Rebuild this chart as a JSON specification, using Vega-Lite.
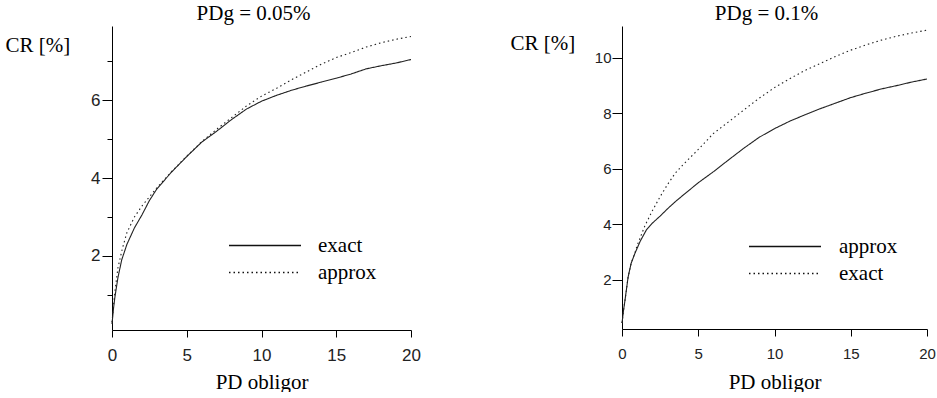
{
  "$schema": "https://vega.github.io/schema/vega-lite/v6.json",
  "background": "white",
  "padding": {"left": 5, "top": 3, "right": 0, "bottom": 0},
  "spacing": 89,
  "config": {
    "view": {"stroke": null},
    "axis": {"grid": false, "domainColor": "black", "tickColor": "black", "labelFont": "Liberation Sans", "labelColor": "#222", "labelFlush": false, "titleFont": "Liberation Serif", "titleFontWeight": "normal", "titleColor": "black", "titleFontSize": 21},
    "title": {"font": "Liberation Serif", "fontSize": 21, "fontWeight": "normal", "color": "black", "anchor": "middle", "frame": "group"},
    "legend": {"labelFont": "Liberation Serif", "labelFontSize": 21, "labelColor": "black"}
  },
  "datasets": {
    "left": [
      {"series": "exact", "pd": 0, "cr": 0.25}, {"series": "exact", "pd": 0.1, "cr": 0.65}, {"series": "exact", "pd": 0.2, "cr": 0.96}, {"series": "exact", "pd": 0.4, "cr": 1.45}, {"series": "exact", "pd": 0.65, "cr": 1.9}, {"series": "exact", "pd": 1.0, "cr": 2.3}, {"series": "exact", "pd": 1.5, "cr": 2.72}, {"series": "exact", "pd": 2.0, "cr": 3.05}, {"series": "exact", "pd": 2.5, "cr": 3.42}, {"series": "exact", "pd": 3.0, "cr": 3.72}, {"series": "exact", "pd": 4.0, "cr": 4.16}, {"series": "exact", "pd": 5.0, "cr": 4.55}, {"series": "exact", "pd": 6.0, "cr": 4.92}, {"series": "exact", "pd": 7.0, "cr": 5.2}, {"series": "exact", "pd": 8.0, "cr": 5.5}, {"series": "exact", "pd": 9.0, "cr": 5.77}, {"series": "exact", "pd": 10.0, "cr": 5.97}, {"series": "exact", "pd": 11.0, "cr": 6.12}, {"series": "exact", "pd": 12.0, "cr": 6.25}, {"series": "exact", "pd": 13.0, "cr": 6.36}, {"series": "exact", "pd": 14.0, "cr": 6.46}, {"series": "exact", "pd": 15.0, "cr": 6.56}, {"series": "exact", "pd": 16.0, "cr": 6.67}, {"series": "exact", "pd": 17.0, "cr": 6.8}, {"series": "exact", "pd": 18.0, "cr": 6.88}, {"series": "exact", "pd": 19.0, "cr": 6.95}, {"series": "exact", "pd": 20.0, "cr": 7.04},
      {"series": "approx", "pd": 0, "cr": 0.3}, {"series": "approx", "pd": 0.1, "cr": 0.72}, {"series": "approx", "pd": 0.2, "cr": 1.1}, {"series": "approx", "pd": 0.4, "cr": 1.7}, {"series": "approx", "pd": 0.7, "cr": 2.2}, {"series": "approx", "pd": 1.0, "cr": 2.6}, {"series": "approx", "pd": 1.5, "cr": 3.0}, {"series": "approx", "pd": 2.0, "cr": 3.28}, {"series": "approx", "pd": 3.0, "cr": 3.75}, {"series": "approx", "pd": 4.0, "cr": 4.17}, {"series": "approx", "pd": 5.0, "cr": 4.56}, {"series": "approx", "pd": 6.0, "cr": 4.93}, {"series": "approx", "pd": 7.0, "cr": 5.25}, {"series": "approx", "pd": 8.0, "cr": 5.55}, {"series": "approx", "pd": 9.0, "cr": 5.85}, {"series": "approx", "pd": 10.0, "cr": 6.1}, {"series": "approx", "pd": 11.0, "cr": 6.3}, {"series": "approx", "pd": 12.0, "cr": 6.52}, {"series": "approx", "pd": 13.0, "cr": 6.72}, {"series": "approx", "pd": 14.0, "cr": 6.92}, {"series": "approx", "pd": 15.0, "cr": 7.09}, {"series": "approx", "pd": 16.0, "cr": 7.22}, {"series": "approx", "pd": 17.0, "cr": 7.36}, {"series": "approx", "pd": 18.0, "cr": 7.47}, {"series": "approx", "pd": 19.0, "cr": 7.56}, {"series": "approx", "pd": 20.0, "cr": 7.63}
    ],
    "right": [
      {"series": "approx", "pd": 0, "cr": 0.44}, {"series": "approx", "pd": 0.1, "cr": 0.9}, {"series": "approx", "pd": 0.2, "cr": 1.28}, {"series": "approx", "pd": 0.4, "cr": 2.1}, {"series": "approx", "pd": 0.6, "cr": 2.6}, {"series": "approx", "pd": 0.85, "cr": 2.96}, {"series": "approx", "pd": 1.2, "cr": 3.4}, {"series": "approx", "pd": 1.6, "cr": 3.8}, {"series": "approx", "pd": 2.0, "cr": 4.05}, {"series": "approx", "pd": 2.5, "cr": 4.3}, {"series": "approx", "pd": 3.0, "cr": 4.57}, {"series": "approx", "pd": 3.5, "cr": 4.82}, {"series": "approx", "pd": 4.0, "cr": 5.05}, {"series": "approx", "pd": 5.0, "cr": 5.5}, {"series": "approx", "pd": 6.0, "cr": 5.9}, {"series": "approx", "pd": 7.0, "cr": 6.33}, {"series": "approx", "pd": 8.0, "cr": 6.75}, {"series": "approx", "pd": 9.0, "cr": 7.14}, {"series": "approx", "pd": 10.0, "cr": 7.45}, {"series": "approx", "pd": 11.0, "cr": 7.72}, {"series": "approx", "pd": 12.0, "cr": 7.95}, {"series": "approx", "pd": 13.0, "cr": 8.17}, {"series": "approx", "pd": 14.0, "cr": 8.37}, {"series": "approx", "pd": 15.0, "cr": 8.57}, {"series": "approx", "pd": 16.0, "cr": 8.73}, {"series": "approx", "pd": 17.0, "cr": 8.88}, {"series": "approx", "pd": 18.0, "cr": 9.0}, {"series": "approx", "pd": 19.0, "cr": 9.13}, {"series": "approx", "pd": 20.0, "cr": 9.24},
      {"series": "exact", "pd": 0, "cr": 0.44}, {"series": "exact", "pd": 0.1, "cr": 0.9}, {"series": "exact", "pd": 0.2, "cr": 1.28}, {"series": "exact", "pd": 0.4, "cr": 2.1}, {"series": "exact", "pd": 0.6, "cr": 2.6}, {"series": "exact", "pd": 0.85, "cr": 2.98}, {"series": "exact", "pd": 1.0, "cr": 3.25}, {"series": "exact", "pd": 1.5, "cr": 3.95}, {"series": "exact", "pd": 2.0, "cr": 4.5}, {"series": "exact", "pd": 2.5, "cr": 5.0}, {"series": "exact", "pd": 3.0, "cr": 5.45}, {"series": "exact", "pd": 3.5, "cr": 5.85}, {"series": "exact", "pd": 4.0, "cr": 6.15}, {"series": "exact", "pd": 5.0, "cr": 6.7}, {"series": "exact", "pd": 6.0, "cr": 7.28}, {"series": "exact", "pd": 7.0, "cr": 7.7}, {"series": "exact", "pd": 8.0, "cr": 8.13}, {"series": "exact", "pd": 9.0, "cr": 8.55}, {"series": "exact", "pd": 10.0, "cr": 8.93}, {"series": "exact", "pd": 11.0, "cr": 9.25}, {"series": "exact", "pd": 12.0, "cr": 9.55}, {"series": "exact", "pd": 13.0, "cr": 9.8}, {"series": "exact", "pd": 14.0, "cr": 10.05}, {"series": "exact", "pd": 15.0, "cr": 10.28}, {"series": "exact", "pd": 16.0, "cr": 10.47}, {"series": "exact", "pd": 17.0, "cr": 10.64}, {"series": "exact", "pd": 18.0, "cr": 10.78}, {"series": "exact", "pd": 19.0, "cr": 10.9}, {"series": "exact", "pd": 20.0, "cr": 11.0}
    ]
  },
  "hconcat": [
    {
      "width": 299,
      "height": 304,
      "title": {"text": "PDg = 0.05%", "offset": 2, "dx": -8},
      "data": {"name": "left"},
      "mark": {"type": "line", "strokeWidth": 1.1, "color": "#222"},
      "encoding": {
        "x": {"field": "pd", "type": "quantitative", "scale": {"domain": [0, 20], "nice": false},
          "axis": {"values": [0, 5, 10, 15, 20], "tickSize": 7, "labelPadding": 10, "labelFontSize": 17, "title": "PD obligor", "titleY": 58, "titleBaseline": "alphabetic"}},
        "y": {"field": "cr", "type": "quantitative", "scale": {"domain": [0.1, 7.9], "nice": false, "zero": false},
          "axis": {"values": [1, 2, 3, 4, 5, 6, 7], "labelExpr": "datum.value % 2 === 0 ? datum.label : ''", "tickSize": {"condition": {"test": "datum.value % 2 === 0", "value": 10}, "value": 5}, "labelPadding": 2, "labelFontSize": 17, "title": "CR [%]", "titleAngle": 0, "titleAlign": "left", "titleBaseline": "alphabetic", "titleX": -107, "titleY": 25}},
        "strokeDash": {"field": "series", "type": "nominal", "scale": {"domain": ["exact", "approx"], "range": [[1, 0], [1.5, 3]]},
          "legend": {"title": null, "orient": "none", "legendX": 116, "legendY": 206, "symbolType": "stroke", "symbolSize": 5184, "clipHeight": 27, "symbolStrokeWidth": 1.5, "symbolStrokeColor": "#111", "labelOffset": 16, "padding": 0, "rowPadding": 0}}
      }
    },
    {
      "width": 305,
      "height": 303,
      "title": {"text": "PDg = 0.1%", "offset": 2, "dx": -8},
      "data": {"name": "right"},
      "mark": {"type": "line", "strokeWidth": 1.1, "color": "#222"},
      "encoding": {
        "x": {"field": "pd", "type": "quantitative", "scale": {"domain": [0, 20], "nice": false},
          "axis": {"values": [0, 5, 10, 15, 20], "tickSize": 7, "labelPadding": 10, "labelFontSize": 15, "title": "PD obligor", "titleY": 59, "titleBaseline": "alphabetic"}},
        "y": {"field": "cr", "type": "quantitative", "scale": {"domain": [0.23, 11.15], "nice": false, "zero": false},
          "axis": {"values": [2, 4, 6, 8, 10], "tickSize": 10, "labelPadding": 1, "labelFontSize": 15, "title": "CR [%]", "titleAngle": 0, "titleAlign": "left", "titleBaseline": "alphabetic", "titleX": -112, "titleY": 23}},
        "strokeDash": {"field": "series", "type": "nominal", "scale": {"domain": ["approx", "exact"], "range": [[1, 0], [1.5, 3]]},
          "legend": {"title": null, "orient": "none", "legendX": 126, "legendY": 207, "symbolType": "stroke", "symbolSize": 5184, "clipHeight": 27, "symbolStrokeWidth": 1.5, "symbolStrokeColor": "#111", "labelOffset": 17, "padding": 0, "rowPadding": 0}}
      }
    }
  ],
  "resolve": {"scale": {"strokeDash": "independent"}, "legend": {"strokeDash": "independent"}}
}
